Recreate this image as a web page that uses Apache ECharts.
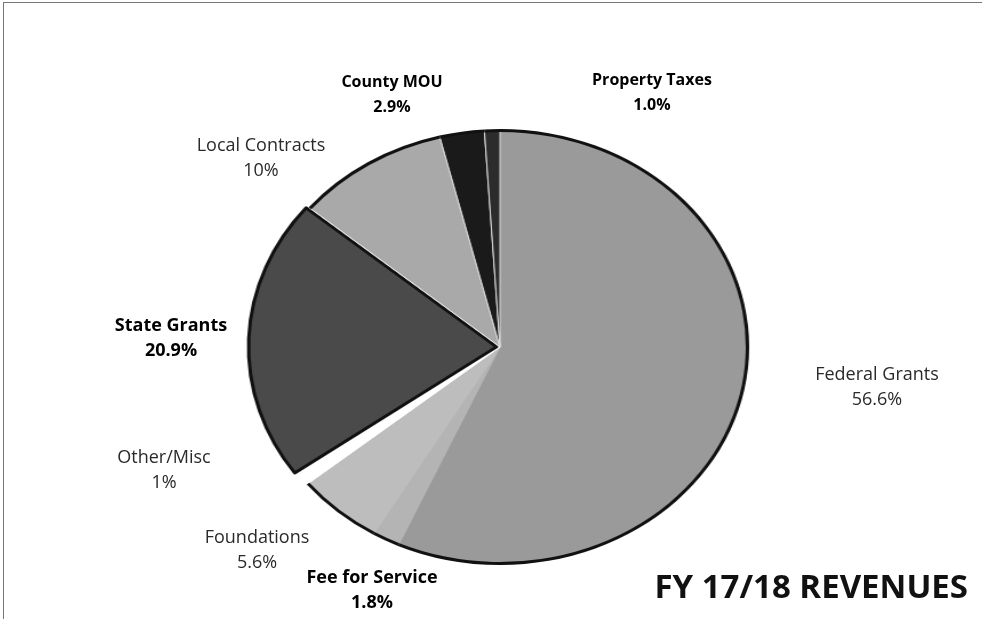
<!DOCTYPE html>
<html>
<head>
<meta charset="utf-8">
<script src="https://cdn.jsdelivr.net/npm/echarts@6/dist/echarts.min.js"></script>
<style>
	html, body { margin: 0; padding: 0; background: #fff; }
	#frame { position: absolute; left: 3px; top: 2px; width: 979px; height: 617px;
		border-top: 1px solid #777; border-left: 1px solid #777; }
	/* 원본 스캔은 파이가 가로로 늘어난 타원 */
	#slices { position: absolute; left: 0; top: 0; width: 982px; height: 619px;
		transform: scaleX(1.143); transform-origin: 500px 347px; }
	#labels { position: absolute; left: 0; top: 0; width: 982px; height: 619px; }
</style>
</head>
<body>
<div id="frame"></div>
<div id="slices"></div>
<div id="labels"></div>
<script>
// 수입 항목 (12시 방향부터 시계방향)
var sources = ['Federal Grants', 'Fee for Service', 'Foundations', 'Other/Misc',
	'State Grants', 'Local Contracts', 'County MOU', 'Property Taxes'];
var shares = [56.6, 1.8, 5.6, 1, 20.9, 10, 2.9, 1.0];
var shareText = ['56.6%', '1.8%', '5.6%', '1%', '20.9%', '10%', '2.9%', '1.0%'];

// 라벨 위치 / 색상
var labelSpots = [
	[877, 387], [372, 590], [257, 550], [164, 470],
	[171, 338], [261, 158], [392, 95], [652, 93]
];
var labelSizes = [18, 18, 18, 18, 18, 18, 16, 16];
var boldLabels = { 'State Grants': true, 'County MOU': true, 'Property Taxes': true, 'Fee for Service': true };
var sliceColors = ['#9a9a9a', '#b4b4b4', '#bdbdbd', '#ffffff', '#4a4a4a', '#a9a9a9', '#1a1a1a', '#2c2c2c'];
var sliceEdges = ['#9a9a9a', '#b4b4b4', '#bdbdbd', '#ffffff', '#111', '#eee', '#ddd', '#ddd'];

var pieCenter = [500, 347];

// 파이 조각 (타원으로 늘림)
function showSlices() {
	var chart = echarts.init(document.getElementById('slices'));

	var pieData = [], rimData = [];
	for (var i = 0; i < sources.length; i++) {
		var name = sources[i];
		pieData.push({
			name: name,
			value: shares[i],
			selected: name === 'State Grants',
			itemStyle: {
				color: sliceColors[i],
				borderColor: sliceEdges[i],
				borderWidth: name === 'State Grants' ? 3 : 1
			}
		});
		// 바깥 테두리 (State Grants, Other/Misc 제외)
		rimData.push({
			name: name,
			value: shares[i],
			itemStyle: { color: (name === 'State Grants' || name === 'Other/Misc') ? 'transparent' : '#111' }
		});
	}

	chart.setOption({
		animation: false,
		series: [{
			type: 'pie',
			center: pieCenter,
			radius: 217,
			startAngle: 90,
			clockwise: true,
			selectedMode: 'single',
			selectedOffset: 3,
			label: { show: false },
			labelLine: { show: false },
			emphasis: { disabled: true },
			data: pieData
		}, {
			type: 'pie',
			silent: true,
			center: pieCenter,
			radius: [215, 218],
			startAngle: 90,
			clockwise: true,
			label: { show: false },
			labelLine: { show: false },
			emphasis: { disabled: true },
			data: rimData
		}]
	});
}

// 라벨 + 제목
function showLabels() {
	var chart = echarts.init(document.getElementById('labels'));

	var labelData = [];
	for (var i = 0; i < sources.length; i++) {
		var bold = !!boldLabels[sources[i]];
		labelData.push({
			name: sources[i],
			value: shares[i],
			itemStyle: { color: 'transparent' },
			label: {
				fontWeight: bold ? 'bold' : 'normal',
				color: bold ? '#000' : '#2a2a2a',
				fontSize: labelSizes[i]
			}
		});
	}

	chart.setOption({
		animation: false,
		graphic: [{
			type: 'text',
			right: 14,
			top: 572,
			style: {
				text: 'FY 17/18 REVENUES',
				font: 'bold 33px "Open Sans"',
				fill: '#111'
			}
		}],
		series: [{
			type: 'pie',
			silent: true,
			center: pieCenter,
			radius: 217,
			startAngle: 90,
			clockwise: true,
			label: {
				show: true,
				position: 'outside',
				fontFamily: 'Open Sans',
				lineHeight: 25,
				align: 'center',
				formatter: function(p) {
					return p.name + '\n' + shareText[p.dataIndex];
				}
			},
			labelLine: { show: false },
			labelLayout: function(p) {
				var s = labelSpots[p.dataIndex];
				return { x: s[0], y: s[1], align: 'center', verticalAlign: 'middle', hideOverlap: false };
			},
			emphasis: { disabled: true },
			data: labelData
		}]
	});
}

showSlices();
showLabels();
</script>
</body>
</html>
